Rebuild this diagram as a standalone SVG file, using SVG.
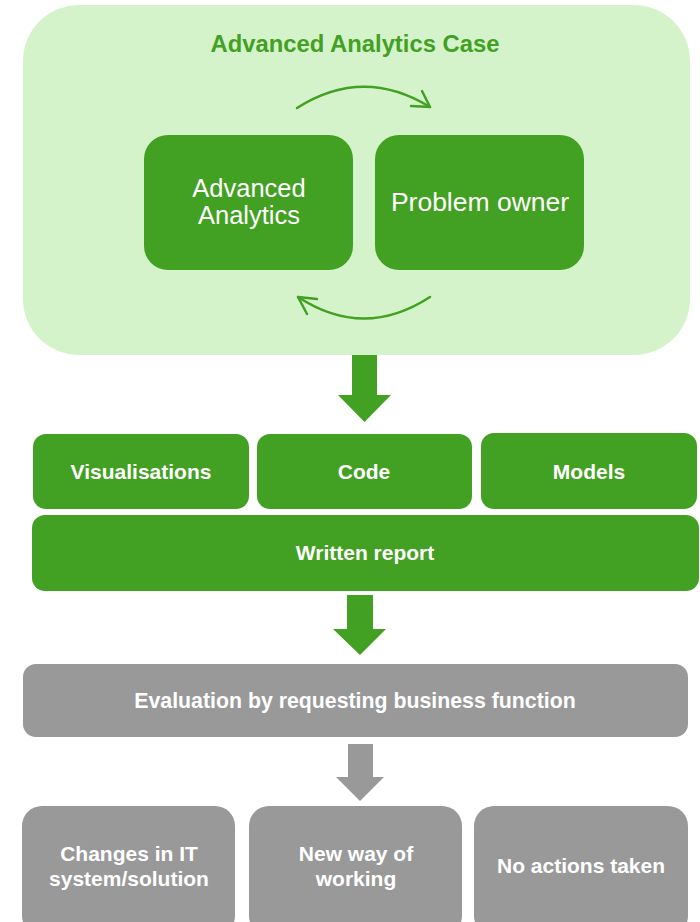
<svg xmlns="http://www.w3.org/2000/svg" width="700" height="922" viewBox="0 0 700 922">
  <defs>
    <style>
      .case { fill: #d5f3cb; }
      .g { fill: #42a022; }
      .gr { fill: #999999; }
      .cycle { fill: none; stroke: #42a022; stroke-width: 2.5; stroke-linecap: round; stroke-linejoin: round; }
      .t { font-family: "Liberation Sans", Arial, sans-serif; fill: #ffffff; text-anchor: middle; }
      .b { font-weight: bold; font-size: 21px; }
      .n { font-size: 25.5px; }
      .title { font-family: "Liberation Sans", Arial, sans-serif; font-weight: bold; font-size: 23.8px; fill: #42a022; text-anchor: middle; }
    </style>
  </defs>
  <rect width="700" height="922" fill="#ffffff"/>

  <!-- Case container -->
  <g id="case">
    <rect class="case" x="23" y="5" width="667" height="350" rx="56"/>
    <text class="title" x="355" y="52">Advanced Analytics Case</text>
  </g>

  <g id="advanced-analytics">
    <rect class="g" x="144" y="135" width="209" height="135" rx="24"/>
    <text class="t n" x="249" y="197">Advanced</text>
    <text class="t n" x="249" y="224">Analytics</text>
  </g>

  <g id="problem-owner">
    <rect class="g" x="375" y="135" width="209" height="135" rx="24"/>
    <text class="t n" x="480" y="211" style="font-size:26.5px">Problem owner</text>
  </g>

  <g id="visualisations">
    <rect class="g" x="33" y="434" width="216" height="75" rx="13"/>
    <text class="t b" x="141" y="479">Visualisations</text>
  </g>

  <g id="code">
    <rect class="g" x="257" y="434" width="215" height="75" rx="13"/>
    <text class="t b" x="364" y="479">Code</text>
  </g>

  <g id="models">
    <rect class="g" x="481" y="433" width="216" height="76" rx="13"/>
    <text class="t b" x="589" y="479">Models</text>
  </g>

  <g id="written-report">
    <rect class="g" x="32" y="515" width="667" height="76" rx="13"/>
    <text class="t b" x="365" y="560">Written report</text>
  </g>

  <g id="evaluation">
    <rect class="gr" x="23" y="664" width="665" height="73" rx="13"/>
    <text class="t b" x="355" y="708" style="font-size:21.3px">Evaluation by requesting business function</text>
  </g>

  <g id="it-changes">
    <rect class="gr" x="22" y="806" width="213" height="130" rx="20"/>
    <text class="t b" x="129" y="861">Changes in IT</text>
    <text class="t b" x="129" y="886">system/solution</text>
  </g>

  <g id="new-way">
    <rect class="gr" x="249" y="806" width="213" height="130" rx="20"/>
    <text class="t b" x="356" y="861">New way of</text>
    <text class="t b" x="356" y="886">working</text>
  </g>

  <g id="no-action">
    <rect class="gr" x="474" y="806" width="214" height="130" rx="20"/>
    <text class="t b" x="581" y="873">No actions taken</text>
  </g>

  <!-- Connectors -->
  <g id="connectors">
    <path class="cycle" d="M297,108 Q363,66 430,107"/>
    <path class="cycle" d="M422,91 L430,107 L411,106"/>
    <path class="cycle" d="M430,297 Q364,340 298,297"/>
    <path class="cycle" d="M317,299 L298,297 L307,314"/>
    <polygon class="g" points="352,355 377,355 377,395 391,395 364.5,422 338,395 352,395"/>
    <polygon class="g" points="347,595 373,595 373,629 386,629 360,655 333,629 347,629"/>
    <polygon class="gr" points="348,744 373,744 373,777 384,777 360,801 336,777 348,777"/>
  </g>
</svg>
